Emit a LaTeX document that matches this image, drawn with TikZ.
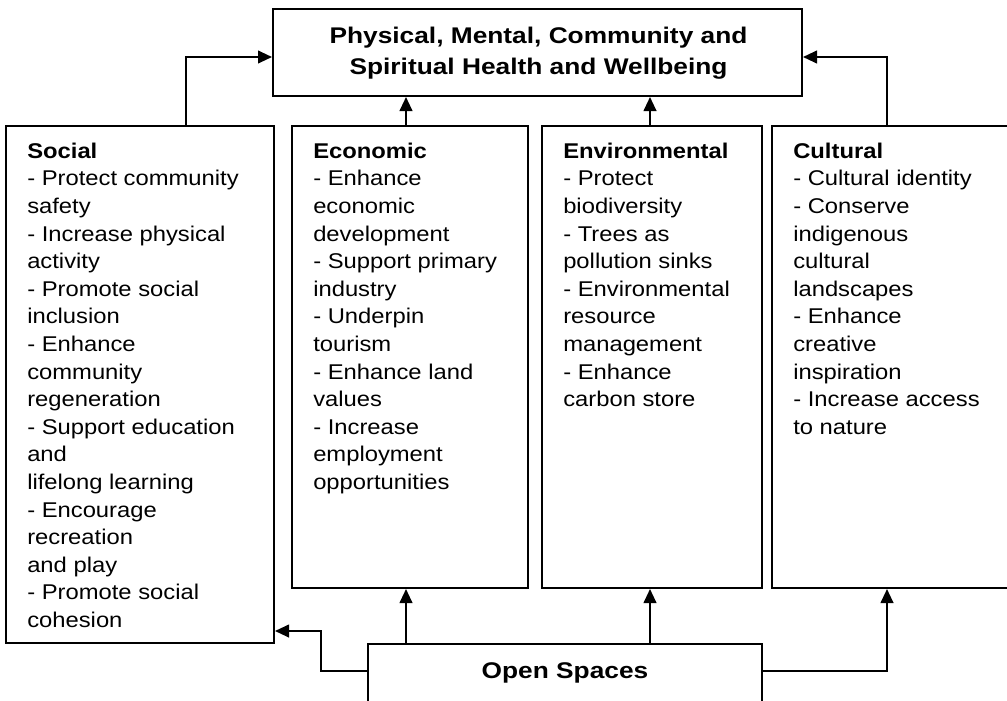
\documentclass[tikz,border=0pt]{standalone}
\usepackage{fontspec}
\setmainfont{Liberation Sans}
\newfontfamily\bodyfont[FakeStretch=1.115]{Liberation Sans}
\newfontfamily\titlefont[FakeStretch=1.16]{Liberation Sans}
\usetikzlibrary{arrows.meta}
\begin{document}
\begin{tikzpicture}[x=0.75pt,y=-0.75pt,
  box/.style={draw, line width=1.5pt, inner sep=0pt},
  conn/.style={line width=1.5pt, -{Triangle[length=10.5pt,width=9.5pt]}},
  bodytext/.style={anchor=north west, inner sep=0pt, align=left,
    font=\bodyfont\fontsize{16}{20.7}\selectfont},
  titletext/.style={inner sep=0pt, align=center,
    font=\titlefont\fontsize{17}{23.25}\selectfont\bfseries}]
\clip (0,0) rectangle (1007,700);
\fill[white] (0,0) rectangle (1007,700);
% boxes
\node[box, minimum width=396.75pt, minimum height=65.25pt] (H) at (537.5,52.5) {};
\node[box, minimum width=201pt, minimum height=387.75pt] (S) at (140,384.5) {};
\node[box, minimum width=177pt, minimum height=346.5pt] (E) at (410,357) {};
\node[box, minimum width=165pt, minimum height=346.5pt] (V) at (652,357) {};
\node[box, minimum width=180pt, minimum height=346.5pt] (C) at (892,357) {};
\node[box, minimum width=295.5pt, minimum height=57pt] (O) at (565,682) {};
% texts
\node[titletext, anchor=north] (Ht) at (538.5,23) {\rule{0pt}{15pt}Physical, Mental, Community and\\Spiritual Health and Wellbeing};
\node[titletext, anchor=base] (Ot) at (565,678) {Open Spaces};
\node[bodytext] (St) at (27,138) {\rule{0pt}{15pt}\textbf{Social}\\
- Protect community\\safety\\- Increase physical\\activity\\- Promote social\\inclusion\\
- Enhance\\community\\regeneration\\- Support education\\and\\lifelong learning\\
- Encourage\\recreation\\and play\\- Promote social\\cohesion};
\node[bodytext] (Et) at (313,138) {\rule{0pt}{15pt}\textbf{Economic}\\
- Enhance\\economic\\development\\- Support primary\\industry\\- Underpin\\tourism\\
- Enhance land\\values\\- Increase\\employment\\opportunities};
\node[bodytext] (Vt) at (563,138) {\rule{0pt}{15pt}\textbf{Environmental}\\
- Protect\\biodiversity\\- Trees as\\pollution sinks\\- Environmental\\resource\\
management\\- Enhance\\carbon store};
\node[bodytext] (Ct) at (793,138) {\rule{0pt}{15pt}\textbf{Cultural}\\
- Cultural identity\\- Conserve\\indigenous\\cultural\\landscapes\\- Enhance\\
creative\\inspiration\\- Increase access\\to nature};
% connectors to top
\draw[conn] ([xshift=34.5pt]S.north) |- ([yshift=-3.375pt]H.west);
\draw[conn] ([xshift=-3pt]E.north) -- ([xshift=-3pt]E.north |- H.south);
\draw[conn] ([xshift=-1.5pt]V.north) -- ([xshift=-1.5pt]V.north |- H.south);
\draw[conn] ([xshift=-3.75pt]C.north) |- ([yshift=-3.375pt]H.east);
% connectors from open spaces
\draw[conn] ([xshift=-3pt]E.south |- O.north) -- ([xshift=-3pt]E.south);
\draw[conn] ([xshift=-1.5pt]V.south |- O.north) -- ([xshift=-1.5pt]V.south);
\draw[conn] ([yshift=8.25pt]O.west) -- ++(-34.5pt,0) |- ([yshift=9.75pt]S.south east);
\draw[conn] ([yshift=8.25pt]O.east) -| ([xshift=-3.75pt]C.south);
\end{tikzpicture}
\end{document}
